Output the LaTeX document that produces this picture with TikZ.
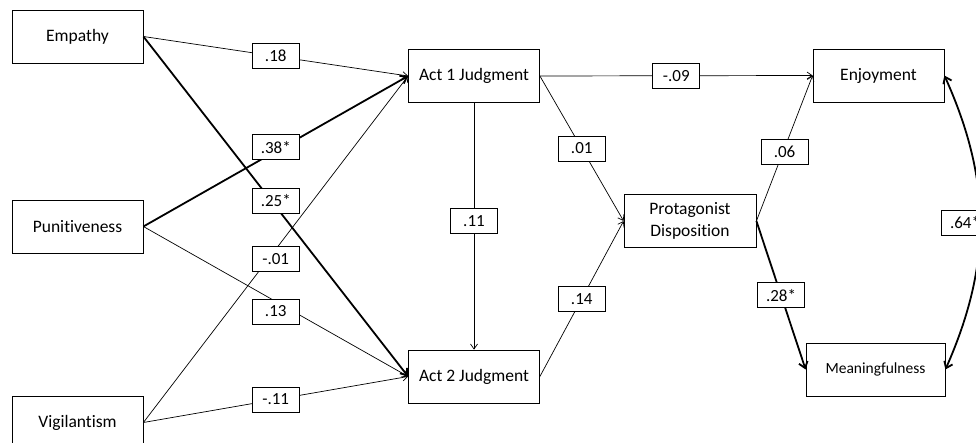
\documentclass[tikz,border=0pt]{standalone}
\usepackage{fontspec}
\setmainfont{Carlito}[Ligatures=NoCommon]
\usetikzlibrary{arrows.meta}

\begin{document}
\begin{tikzpicture}[
  x=1pt, y=-1pt,
  var/.style={draw, line width=0.8pt, minimum width=131pt, minimum height=53pt, align=center, font=\fontsize{17.5}{22}\selectfont},
  coef/.style={draw, fill=white, line width=0.7pt, minimum width=47pt, minimum height=25pt, inner sep=1pt, font=\fontsize{17}{20}\selectfont},
  link/.style={-{Straight Barb[length=5pt,width=7pt]}, line width=0.7pt},
  boldlink/.style={-{Straight Barb[length=6pt,width=9pt]}, line width=1.8pt}
]
\useasboundingbox (0,0) rectangle (976,443);

\node[var] (emp) at (77.5,36.5) {Empathy};
\node[var] (pun) at (77.5,226.5) {Punitiveness};
\node[var] (vig) at (77.5,422.5) {Vigilantism};
\node[var] (act1) at (474,76) {Act 1 Judgment};
\node[var] (act2) at (474,376.5) {Act 2 Judgment};
\node[var, minimum width=132pt] (prot) at (690,221) {Protagonist\\Disposition};
\node[var] (enj) at (878.5,75.5) {Enjoyment};
\node[var, minimum width=139pt, font=\fontsize{15.5}{20}\selectfont] (mean) at (875.5,369.5) {Meaningfulness};

% predictors to act judgments
\draw[link] (emp.east) -- node[coef] {.18} (act1.west);
\draw[boldlink] (emp.east) -- node[coef, yshift=6pt] {.25*} (act2.west);
\draw[boldlink] (pun.east) -- node[coef, yshift=4pt] {.38*} (act1.west);
\draw[link] (pun.east) -- node[coef, yshift=-10pt] {.13} (act2.west);
\draw[link] (vig.east) -- node[coef, yshift=-10pt] {-.01} (act1.west);
\draw[link] (vig.east) -- node[coef] {-.11} (act2.west);

% judgments to disposition and outcomes
\draw[link] (act1.south) -- node[coef, pos=.48] {.11} (act2.north);
\draw[link] (act1.east) -- node[coef] {-.09} (enj.west);
\draw[link] (act1.east) -- node[coef] {.01} (prot.west);
\draw[link] (act2.east) -- node[coef] {.14} (prot.west);
\draw[link] (prot.east) -- node[coef, yshift=-4pt] {.06} (enj.west);
\draw[boldlink] (prot.east) -- node[coef] {.28*} (mean.west);

% covariance
\draw[boldlink, {Straight Barb[length=6pt,width=9pt]}-{Straight Barb[length=6pt,width=9pt]}]
  (enj.east) to[bend left=24] node[coef, xshift=-15pt] {.64*} (mean.east);
\end{tikzpicture}
\end{document}
